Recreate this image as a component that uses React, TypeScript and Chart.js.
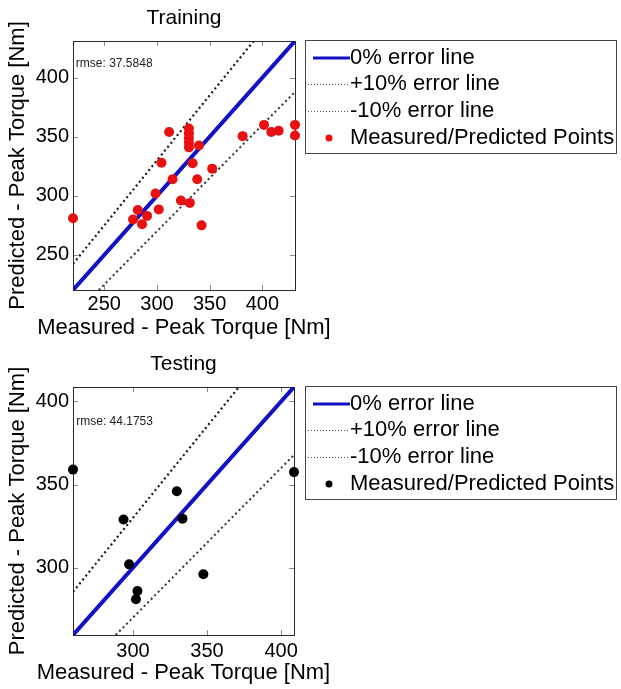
import React, { useEffect, useRef } from 'react';
import { Chart, registerables } from 'chart.js';

Chart.register(...registerables);

const FONT = "'Liberation Sans', Arial, Helvetica, sans-serif";

// ---------- data ----------
const trainMeasured = [220.3, 277.3, 281.8, 285.9, 290.6, 298.6, 301.7, 304.3, 311.5, 314.8, 322.7, 331.2, 330.3, 330.3, 330.3, 330.3, 330.3, 333.8, 338.2, 339.8, 342.3, 352.4, 381.3, 401.6, 408.5, 415.5, 431.0, 431.0];
const trainPredicted = [281, 280, 288, 276, 283, 302, 288.5, 328, 354, 314, 296, 294, 357, 353, 349, 345, 341, 327.5, 314, 342.5, 275, 323, 350.5, 360, 354, 355, 360, 351];
const testMeasured = [259.5, 293.6, 297.4, 302.0, 303.0, 329.6, 333.4, 347.5, 408.7];
const testPredicted = [359, 329, 302, 281, 286, 346, 329.5, 296, 357.5];
const trainTicks = [250, 300, 350, 400];
const testTicks = [300, 350, 400];
const trainRmse = 37.5848;
const testRmse = 44.1753;
const trainRmseAt = [223, 411.5];
const testRmseAt = [261.7, 388];
const seriesLabels = ['0% error line', '+10% error line', '-10% error line', 'Measured/Predicted Points'];
const xTitle = 'Measured - Peak Torque [Nm]';
const yTitle = 'Predicted - Peak Torque [Nm]';

type Panel = {
  title: string;
  measured: number[];
  predicted: number[];
  ticks: number[];
  rmse: number;
  rmseAt: number[];
  pointColor: string;
  height: number;
  padRight: number;
  padTop: number;
  titleY: number;
  xHeight: number;
  xTitleY: number;
  xTickPad: number;
};

const decorPlugin = {
  id: 'decor',
  beforeDatasetsDraw(chart: any) {
    const { ctx, chartArea: ca } = chart;
    const opts = chart.options.plugins.decor;
    const xs = chart.scales.x, ys = chart.scales.y;
    ctx.save();
    // inward tick marks
    ctx.strokeStyle = '#8a8a8a';
    ctx.lineWidth = 1;
    ctx.beginPath();
    for (const v of opts.ticks) {
      const px = Math.round(xs.getPixelForValue(v)) + 0.5;
      ctx.moveTo(px, ca.bottom); ctx.lineTo(px, ca.bottom - 5);
      ctx.moveTo(px, ca.top); ctx.lineTo(px, ca.top + 5);
      const py = Math.round(ys.getPixelForValue(v)) + 0.5;
      ctx.moveTo(ca.left, py); ctx.lineTo(ca.left + 5, py);
      ctx.moveTo(ca.right, py); ctx.lineTo(ca.right - 5, py);
    }
    ctx.stroke();
    // axes box
    ctx.strokeStyle = '#2a2a2a';
    ctx.strokeRect(Math.round(ca.left) + 0.5, Math.round(ca.top) + 0.5, Math.round(ca.right - ca.left), Math.round(ca.bottom - ca.top));
    // rmse text
    ctx.fillStyle = '#222';
    ctx.font = `12px ${FONT}`;
    ctx.textBaseline = 'middle';
    ctx.textAlign = 'left';
    ctx.fillText(opts.rmseText, xs.getPixelForValue(opts.rmseAt[0]), ys.getPixelForValue(opts.rmseAt[1]));
    // titles
    ctx.fillStyle = '#000';
    ctx.textAlign = 'center';
    ctx.font = `21px ${FONT}`;
    const cx = (ca.left + ca.right) / 2;
    ctx.fillText(opts.title, cx, opts.titleY);
    ctx.font = `22px ${FONT}`;
    ctx.fillText(opts.xTitle, cx, opts.xTitleY);
    ctx.translate(17.5, (ca.top + ca.bottom) / 2);
    ctx.rotate(-Math.PI / 2);
    ctx.fillText(opts.yTitle, 0, 0);
    ctx.restore();
  },
  afterDraw(chart: any) {
    const { ctx, chartArea: ca } = chart;
    const bx = 305, by = Math.round(ca.top) - 0.5, bw = 311, bh = 113;
    ctx.save();
    ctx.fillStyle = '#fff';
    ctx.fillRect(bx, by, bw, bh);
    ctx.strokeStyle = '#444';
    ctx.lineWidth = 1;
    ctx.strokeRect(bx + 0.5, by, bw, bh);
    ctx.font = `22px ${FONT}`;
    ctx.textBaseline = 'middle';
    ctx.textAlign = 'left';
    chart.data.datasets.forEach((ds: any, i: number) => {
      const y = Math.round(by + 17 + i * 26.7);
      if (ds.showLine) {
        ctx.beginPath();
        if (ds.borderDash && ds.borderDash.length) {
          ctx.setLineDash([1, 2]);
          ctx.lineWidth = 1;
          ctx.strokeStyle = '#555';
          ctx.moveTo(308, y + 0.5); ctx.lineTo(350, y + 0.5);
        } else {
          ctx.setLineDash([]);
          ctx.lineWidth = 3;
          ctx.strokeStyle = ds.borderColor;
          ctx.moveTo(313, y); ctx.lineTo(350, y);
        }
        ctx.stroke();
        ctx.setLineDash([]);
      } else {
        ctx.beginPath();
        ctx.fillStyle = ds.pointBackgroundColor;
        ctx.arc(329, y, 3.5, 0, Math.PI * 2);
        ctx.fill();
      }
      ctx.fillStyle = '#000';
      ctx.fillText(ds.label, 350, y);
    });
    ctx.restore();
  },
};

function buildConfig(p: Panel): any {
  const lo = Math.min(...p.measured);
  const hi = Math.max(...p.measured);
  const pts = p.measured.map((m, i) => ({ x: m, y: p.predicted[i] }));
  const lineBase = { showLine: true, pointRadius: 0, fill: false, order: 1 };
  const tickFont = { family: FONT, size: 20 };
  return {
    type: 'scatter',
    data: {
      datasets: [
        { ...lineBase, label: seriesLabels[0], data: [{ x: lo, y: lo }, { x: hi, y: hi }], borderColor: '#1212c4', borderWidth: 4 },
        { ...lineBase, label: seriesLabels[1], data: [{ x: lo, y: lo * 1.1 }, { x: hi / 1.1, y: hi }], borderColor: '#1a1a1a', borderWidth: 2.2, borderDash: [2, 3] },
        { ...lineBase, label: seriesLabels[2], data: [{ x: lo / 0.9, y: lo }, { x: hi, y: hi * 0.9 }], borderColor: '#333', borderWidth: 2, borderDash: [2, 3] },
        { label: seriesLabels[3], data: pts, showLine: false, pointRadius: 5, pointBackgroundColor: p.pointColor, pointBorderColor: p.pointColor, pointBorderWidth: 0, clip: false, order: 0 },
      ],
    },
    options: {
      animation: false,
      responsive: false,
      devicePixelRatio: 1,
      events: [],
      layout: { padding: { left: 0, right: p.padRight, top: p.padTop, bottom: 0 } },
      plugins: {
        legend: { display: false },
        tooltip: { enabled: false },
        title: { display: false },
        decor: {
          ticks: p.ticks, rmseText: `rmse: ${p.rmse}`, rmseAt: p.rmseAt,
          title: p.title, titleY: p.titleY, xTitle, xTitleY: p.xTitleY, yTitle,
        },
      },
      scales: {
        x: {
          type: 'linear', min: lo, max: hi,
          grid: { display: false, drawTicks: false },
          border: { display: false },
          ticks: { font: tickFont, color: '#000', padding: p.xTickPad },
          title: { display: false },
          afterBuildTicks: (s: any) => { s.ticks = p.ticks.map((v) => ({ value: v })); },
          afterFit: (s: any) => { s.height = p.xHeight; },
        },
        y: {
          type: 'linear', min: lo, max: hi,
          grid: { display: false, drawTicks: false },
          border: { display: false },
          ticks: { font: tickFont, color: '#000', padding: 4 },
          title: { display: false },
          afterBuildTicks: (s: any) => { s.ticks = p.ticks.map((v) => ({ value: v })); },
          afterFit: (s: any) => { s.width = 73; },
        },
      },
    },
    plugins: [decorPlugin],
  };
}

const trainPanel: Panel = {
  title: 'Training', measured: trainMeasured, predicted: trainPredicted, ticks: trainTicks,
  rmse: trainRmse, rmseAt: trainRmseAt, pointColor: '#e81010',
  height: 345, padRight: 326, padTop: 41, titleY: 18, xHeight: 55, xTitleY: 327.5, xTickPad: 2.5,
};
const testPanel: Panel = {
  title: 'Testing', measured: testMeasured, predicted: testPredicted, ticks: testTicks,
  rmse: testRmse, rmseAt: testRmseAt, pointColor: '#000',
  height: 344, padRight: 327, padTop: 42, titleY: 19, xHeight: 54, xTitleY: 328.3, xTickPad: 4,
};

function PanelChart({ panel }: { panel: Panel }) {
  const ref = useRef<HTMLCanvasElement | null>(null);
  useEffect(() => {
    if (!ref.current) return;
    const chart = new Chart(ref.current, buildConfig(panel));
    return () => chart.destroy();
  }, [panel]);
  return <canvas ref={ref} width={621} height={panel.height} style={{ display: 'block', width: 621, height: panel.height }} />;
}

export default function App() {
  return (
    <div style={{ position: 'absolute', left: 0, top: 0, width: 621, height: 689, background: '#fff' }}>
      <PanelChart panel={trainPanel} />
      <PanelChart panel={testPanel} />
    </div>
  );
}
